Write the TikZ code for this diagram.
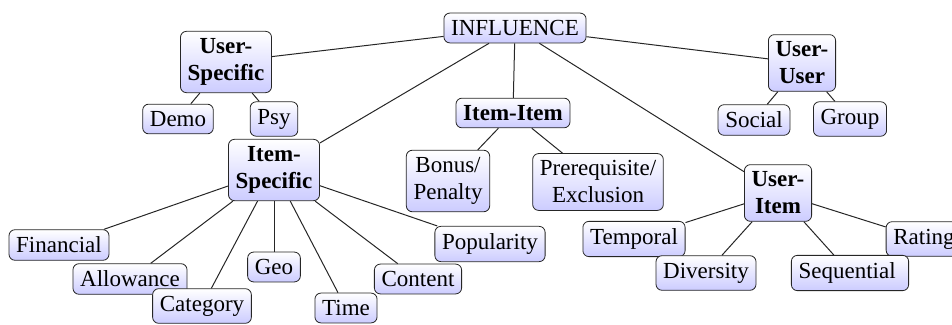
\documentclass[tikz,border=0pt]{standalone}
\usepackage{fontspec}
\setmainfont{Liberation Serif}
\begin{document}
\begin{tikzpicture}[x=0.5pt,y=-0.5pt]

% Define styles
\tikzstyle{box}=[draw=black!85, rounded corners=3pt, top color=white, bottom color=blue!20, align=center, font=\fontsize{11.5}{13.5}\selectfont, inner sep=3.6pt]
\tikzstyle{topic}=[box, font=\fontsize{11.5}{13.5}\selectfont\bfseries]
\tikzstyle{link}=[draw=black!85, line width=0.5pt]

\useasboundingbox (0,0) rectangle (952,325);

% Root and topics
\node[box] (influence) at (515,28) {INFLUENCE};
\node[topic] (userspec) at (226,62) {User-\\Specific};
\node[topic] (useruser) at (802,63) {User-\\User};
\node[topic] (itemitem) at (513,113) {Item-Item};
\node[topic] (itemspec) at (274,170) {Item-\\Specific};
\node[topic] (useritem) at (778,193) {User-\\Item};

\foreach \nm in {userspec,useruser,itemitem,itemspec,useritem}
  \draw[link] (influence) -- (\nm);

% Two-line leaves
\node[box] (bonus) at (448,181) {Bonus/\\Penalty};
\node[box] (prereq) at (598,182) {Prerequisite/\\Exclusion};
\draw[link] (itemitem) -- (bonus);
\draw[link] (itemitem) -- (prereq);

% Leaves: name/parent/x/y/text
\foreach \nm/\up/\px/\py/\txt in {
  demo/userspec/178/119/Demo,
  psy/userspec/274/119/Psy,
  social/useruser/754/120/Social,
  grp/useruser/850/119/Group,
  fin/itemspec/59/245/Financial,
  allow/itemspec/130/279/Allowance,
  cat/itemspec/202/306/Category,
  geo/itemspec/274/267/Geo,
  time/itemspec/346/308/Time,
  content/itemspec/418/279/Content,
  pop/itemspec/490/244/Popularity,
  temporal/useritem/634/239/Temporal,
  diversity/useritem/706/273/Diversity,
  rating/useritem/924/239/Rating,
  seq/useritem/850/273/Sequential
}
{
  \node[box] (\nm) at (\px,\py) {\txt};
  \draw[link] (\up) -- (\nm);
}

\end{tikzpicture}
\end{document}
